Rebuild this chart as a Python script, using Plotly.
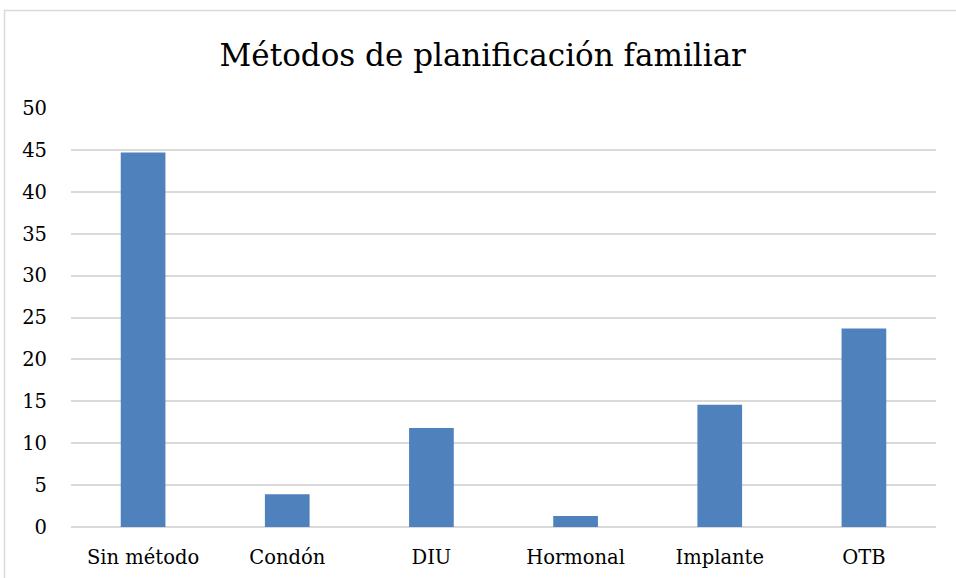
import plotly.graph_objects as go

categories = ["Sin método", "Condón", "DIU", "Hormonal", "Implante", "OTB"]
values = [44.7, 3.9, 11.8, 1.3, 14.6, 23.7]
y_ticks = [0, 5, 10, 15, 20, 25, 30, 35, 40, 45, 50]

W, H = 956, 578
L, R, T, B = 71, 20, 108, 51
pw, ph = W - L - R, H - T - B

fig = go.Figure(go.Bar(x=categories, y=values, marker=dict(color="#4F81BD", line=dict(width=0)),
                       hoverinfo="skip"))

fig.update_layout(
    width=W, height=H,
    margin=dict(l=L, r=R, t=T, b=B, autoexpand=False),
    paper_bgcolor="white", plot_bgcolor="white",
    font=dict(family="DejaVu Serif", color="#000000", size=19.5),
    bargap=0.69,
    showlegend=False,
    title=dict(text="Métodos de planificación familiar", x=0.505, xanchor="center",
               y=1 - 55 / H, yanchor="middle", font=dict(size=31)),
    xaxis=dict(showgrid=False, showline=False, ticks="", ticklabelstandoff=16),
    yaxis=dict(range=[0, 50], tickvals=y_ticks, showgrid=True, gridcolor="#D9D9D9", gridwidth=1.5,
               zeroline=True, zerolinecolor="#D9D9D9", zerolinewidth=1.5,
               showline=False, ticks="", ticklabelstandoff=23),
    shapes=[dict(type="rect", xref="paper", yref="paper",
                 x0=(4.5 - L) / pw, x1=(W + 5 - L) / pw,
                 y0=-(B + 5) / ph, y1=1 + (T - 10.5) / ph,
                 line=dict(color="#D9D9D9", width=1.5), fillcolor="rgba(0,0,0,0)", layer="below")],
)

fig.write_html("out.html", config={"displayModeBar": False},
               post_script="document.body.style.margin='0';document.body.style.overflow='hidden';")
